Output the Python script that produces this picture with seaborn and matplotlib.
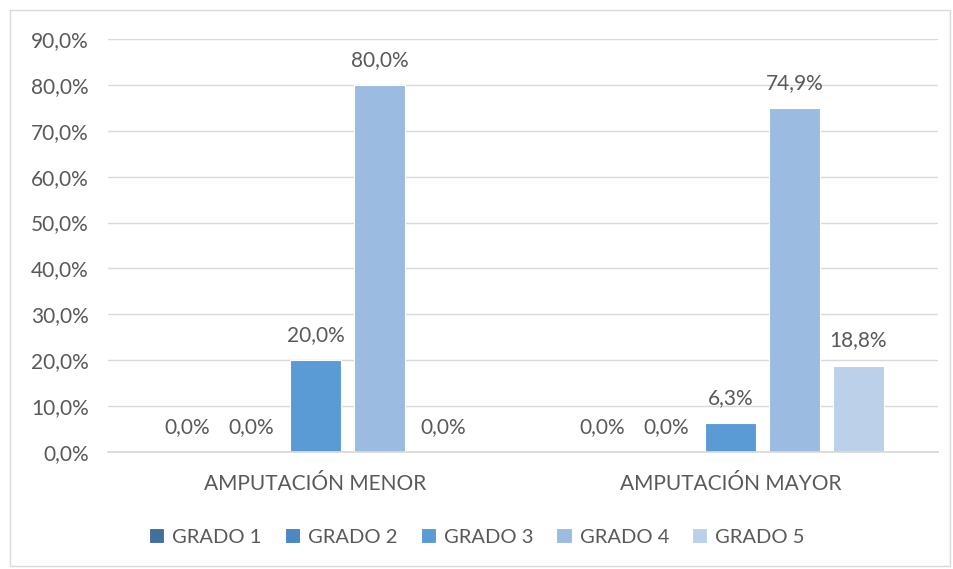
import matplotlib
matplotlib.use("Agg")
import matplotlib.pyplot as plt
import seaborn as sns
import pandas as pd
from matplotlib.patches import Rectangle
from matplotlib.ticker import FuncFormatter

categories = ["AMPUTACIÓN MENOR", "AMPUTACIÓN MAYOR"]
grades = ["GRADO 1", "GRADO 2", "GRADO 3", "GRADO 4", "GRADO 5"]
grado1 = [0.0, 0.0]
grado2 = [0.0, 0.0]
grado3 = [20.0, 6.3]
grado4 = [80.0, 74.9]
grado5 = [0.0, 18.8]
colors = ["#41709c", "#4b87c2", "#5b9bd5", "#9bbbe0", "#bcd0ea"]

rows = []
for g, vals in zip(grades, [grado1, grado2, grado3, grado4, grado5]):
    for c, v in zip(categories, vals):
        rows.append({"cat": c, "grade": g, "val": v})
df = pd.DataFrame(rows)

sns.set_theme(style="white")
plt.rcParams["font.family"] = ["Lato", "DejaVu Sans"]
txt = "#595959"
fs = 15

fig = plt.figure(figsize=(9.54, 5.69), dpi=100)
ax = fig.add_axes([108/954, 1-452/569, 830/954, 413/569])

sns.barplot(data=df, x="cat", y="val", hue="grade", hue_order=grades,
            order=categories, palette=colors, width=0.77, gap=0.2,
            ax=ax, legend=True, edgecolor="white", linewidth=0.8, saturation=1)

ax.set_ylim(0, 90)
ax.set_yticks(range(0, 91, 10))
ax.yaxis.set_major_formatter(FuncFormatter(lambda v, p: f"{v:.1f}%".replace(".", ",")))
ax.grid(axis="y", color="#d9d9d9", linewidth=1)
ax.set_axisbelow(True)
for s in ["top", "right", "left"]:
    ax.spines[s].set_visible(False)
ax.spines["bottom"].set_color("#d9d9d9")
ax.tick_params(axis="both", colors=txt, labelsize=fs, length=0)
ax.tick_params(axis="x", pad=16)
ax.tick_params(axis="y", pad=14)
ax.set_xlabel("")
ax.set_ylabel("")

for cont in ax.containers:
    ax.bar_label(cont, labels=[f"{v:.1f}%".replace(".", ",") for v in cont.datavalues],
                 padding=11, color=txt, fontsize=fs)

leg = ax.legend(loc="center", bbox_to_anchor=(0.5, 1 - 537/569), bbox_transform=fig.transFigure,
                ncol=5, frameon=False, fontsize=14.5, handlelength=0.75, handleheight=0.75,
                columnspacing=1.15, handletextpad=0.4)
for t in leg.get_texts():
    t.set_color(txt)

fig.patches.append(Rectangle((10/954, 1-566/569), 940/954, 556/569, transform=fig.transFigure,
                             fill=False, edgecolor="#d9d9d9", linewidth=1))
fig.savefig("out.png", dpi=100, facecolor="white")
